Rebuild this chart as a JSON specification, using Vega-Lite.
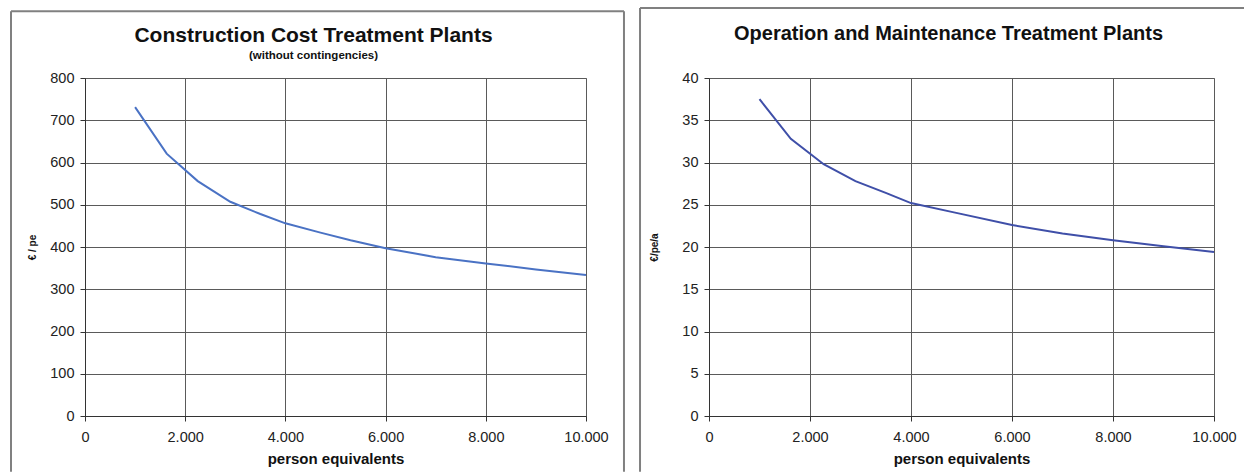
{
  "$schema": "https://vega.github.io/schema/vega-lite/v6.json",
  "autosize": {"type": "pad"},
  "padding": {"left": 9, "top": 6, "right": 0, "bottom": 0},
  "background": "white",
  "spacing": 123,
  "bounds": "flush",
  "datasets": {
    "construction": [
      {"pe": 1000, "cost": 731},
      {"pe": 1630, "cost": 621},
      {"pe": 2250, "cost": 556},
      {"pe": 2900, "cost": 507},
      {"pe": 3500, "cost": 478},
      {"pe": 4000, "cost": 456},
      {"pe": 4700, "cost": 434},
      {"pe": 5300, "cost": 416},
      {"pe": 6000, "cost": 397},
      {"pe": 7000, "cost": 376},
      {"pe": 8000, "cost": 361},
      {"pe": 9000, "cost": 347},
      {"pe": 10000, "cost": 334}
    ],
    "om": [
      {"pe": 1000, "cost": 37.5},
      {"pe": 1620, "cost": 32.8},
      {"pe": 2270, "cost": 29.8},
      {"pe": 2900, "cost": 27.8},
      {"pe": 3500, "cost": 26.4},
      {"pe": 4000, "cost": 25.2},
      {"pe": 4850, "cost": 24.1},
      {"pe": 6000, "cost": 22.6},
      {"pe": 7000, "cost": 21.6},
      {"pe": 8000, "cost": 20.8},
      {"pe": 9000, "cost": 20.1},
      {"pe": 10000, "cost": 19.4}
    ],
    "one": [{}]
  },
  "config": {
    "font": "Liberation Sans",
    "view": {"stroke": "#9a9a9a", "strokeWidth": 1},
    "axis": {
      "grid": true,
      "labelFlush": false,
      "labelFont": "Liberation Sans",
      "labelFontSize": 14.5,
      "labelColor": "#222222",
      "titleFont": "Liberation Sans",
      "titleFontWeight": "bold",
      "titleColor": "#111111",
      "gridColor": "#5a5a5a",
      "gridOpacity": 1,
      "gridWidth": 1,
      "domainColor": "#333333",
      "tickColor": "#333333",
      "tickSize": 5
    },
    "title": {
      "font": "Liberation Sans",
      "fontWeight": "bold",
      "color": "#111111",
      "anchor": "middle",
      "frame": "group",
      "subtitleFont": "Liberation Sans",
      "subtitleFontWeight": "bold",
      "subtitleColor": "#111111"
    }
  },
  "hconcat": [
    {
      "width": 501,
      "height": 338,
      "title": {"text": "Construction Cost Treatment Plants", "subtitle": "(without contingencies)", "fontSize": 21, "subtitleFontSize": 11.5, "dx": -22, "offset": -51, "subtitlePadding": 4},
      "layer": [
        {
          "data": {"name": "construction"},
          "mark": {"type": "line", "color": "#4a72c4", "strokeWidth": 2},
          "encoding": {
            "x": {
              "field": "pe", "type": "quantitative",
              "scale": {"domain": [0, 10000], "nice": false},
              "axis": {
                "grid": true,
                "labelFlush": false,
                "values": [0, 2000, 4000, 6000, 8000, 10000],
                "labelExpr": "replace(format(datum.value, ','), ',', '.')",
                "labelPadding": 9,
                "title": "person equivalents",
                "titleFontSize": 15,
                "titlePadding": 8
              }
            },
            "y": {
              "field": "cost", "type": "quantitative",
              "scale": {"domain": [0, 800], "nice": false},
              "axis": {
                "grid": true,
                "labelFlush": false,
                "values": [0, 100, 200, 300, 400, 500, 600, 700, 800],
                "labelPadding": 6,
                "title": "€ / pe",
                "titleFontSize": 10,
                "titlePadding": 12
              }
            }
          }
        },
        {
          "data": {"name": "one"},
          "mark": {"type": "rule", "stroke": "#808080", "strokeWidth": 2},
          "encoding": {
            "x": {"datum": -1477, "type": "quantitative"},
            "y": {"datum": 958, "type": "quantitative"},
            "y2": {"datum": -132}
          }
        },
        {
          "data": {"name": "one"},
          "mark": {"type": "rule", "stroke": "#808080", "strokeWidth": 2},
          "encoding": {
            "x": {"datum": 10758, "type": "quantitative"},
            "y": {"datum": 958, "type": "quantitative"},
            "y2": {"datum": -132}
          }
        },
        {
          "data": {"name": "one"},
          "mark": {"type": "rule", "stroke": "#808080", "strokeWidth": 2},
          "encoding": {
            "x": {"datum": -1477, "type": "quantitative"},
            "x2": {"datum": 10758},
            "y": {"datum": 958, "type": "quantitative"}
          }
        }
      ]
    },
    {
      "width": 505,
      "height": 338,
      "title": {"text": "Operation and Maintenance Treatment Plants", "fontSize": 20, "dx": -13, "offset": -37},
      "layer": [
        {
          "data": {"name": "om"},
          "mark": {"type": "line", "color": "#3f4fa8", "strokeWidth": 2},
          "encoding": {
            "x": {
              "field": "pe", "type": "quantitative",
              "scale": {"domain": [0, 10000], "nice": false},
              "axis": {
                "grid": true,
                "labelFlush": false,
                "values": [0, 2000, 4000, 6000, 8000, 10000],
                "labelExpr": "replace(format(datum.value, ','), ',', '.')",
                "labelPadding": 9,
                "title": "person equivalents",
                "titleFontSize": 15,
                "titlePadding": 8
              }
            },
            "y": {
              "field": "cost", "type": "quantitative",
              "scale": {"domain": [0, 40], "nice": false},
              "axis": {
                "grid": true,
                "labelFlush": false,
                "values": [0, 5, 10, 15, 20, 25, 30, 35, 40],
                "labelPadding": 6,
                "title": "€/pe/a",
                "titleFontSize": 10,
                "titlePadding": 22
              }
            }
          }
        },
        {
          "data": {"name": "one"},
          "mark": {"type": "rule", "stroke": "#808080", "strokeWidth": 2},
          "encoding": {
            "x": {"datum": -1366, "type": "quantitative"},
            "y": {"datum": 48.28, "type": "quantitative"},
            "y2": {"datum": -6.6}
          }
        },
        {
          "data": {"name": "one"},
          "mark": {"type": "rule", "stroke": "#808080", "strokeWidth": 2},
          "encoding": {
            "x": {"datum": -1366, "type": "quantitative"},
            "x2": {"datum": 10600},
            "y": {"datum": 48.28, "type": "quantitative"}
          }
        }
      ]
    }
  ]
}
